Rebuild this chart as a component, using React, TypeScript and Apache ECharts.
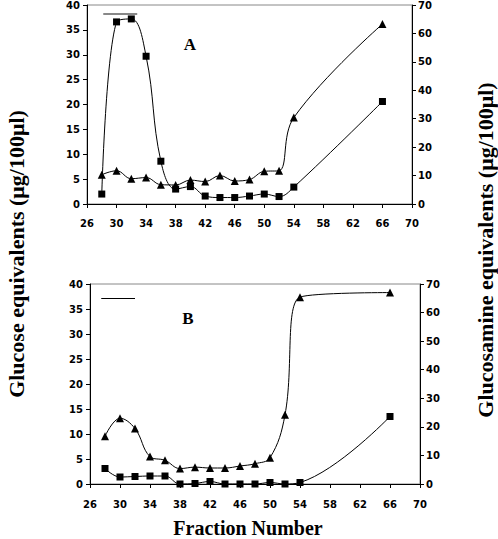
import React, { useEffect, useRef } from "react";
import * as echarts from "echarts";

// Fraction numbers (x)
const fractions = [28, 30, 32, 34, 36, 38, 40, 42, 44, 46, 48, 50, 52, 54, 66];
const xTicks = [26, 30, 34, 38, 42, 46, 50, 54, 58, 62, 66, 70];

// Panel A
const glucoseA = [2.0, 36.6, 37.2, 29.7, 8.6, 3.0, 3.5, 1.6, 1.3, 1.3, 1.6, 2.0, 1.5, 3.4, 20.6];
const glucosamineA = [10.3, 11.7, 8.9, 9.3, 6.8, 6.7, 8.4, 7.9, 10.0, 8.1, 8.6, 11.5, 11.7, 30.4, 63.3];
const barA = [[28.2, 38.3], [32.8, 38.3]];

// Panel B
const glucoseB = [3.1, 1.4, 1.5, 1.6, 1.6, 0, 0.1, 0.5, 0, 0, 0, 0.3, 0, 0.3, 13.5];
const glucosamineB = [16.7, 23.0, 19.4, 9.6, 8.3, 5.4, 5.9, 5.6, 5.6, 6.3, 7.1, 9.2, 24.2, 65.4, 67.0];
const barB = [[27.5, 37.1], [32.0, 37.1]];

const tickFont = { fontFamily: "DejaVu Sans", fontWeight: "bold" as const, fontSize: 10, color: "#000" };
const titleFont = "bold 22px 'Liberation Serif'";

function pairs(xs: number[], ys: number[]) {
  return xs.map((x, i) => [x, ys[i]]);
}

function xAxis(gridIndex: number, margin: number) {
  return {
    type: "value",
    gridIndex,
    min: 26,
    max: 70,
    interval: 2,
    axisLine: { show: true, onZero: false, lineStyle: { color: "#000", width: 1 } },
    axisTick: { show: true, inside: false, length: 4, customValues: xTicks, lineStyle: { color: "#000" } },
    axisLabel: { ...tickFont, margin, customValues: xTicks },
    splitLine: { show: false },
  };
}

function yAxis(gridIndex: number, position: "left" | "right", max: number, interval: number, margin: number) {
  return {
    type: "value",
    gridIndex,
    position,
    min: 0,
    max,
    interval,
    axisLine: { show: true, onZero: false, lineStyle: { color: "#000", width: 1 } },
    axisTick: { show: true, inside: false, length: 4, lineStyle: { color: "#000" } },
    axisLabel: { ...tickFont, margin },
    splitLine: { show: false },
  };
}

function lineSeries(
  name: string,
  xs: number[],
  ys: number[],
  xi: number,
  yi: number,
  symbol: string,
  size: number,
  bar?: number[][],
  barColor?: string,
  barWidth?: number
) {
  const s: any = {
    name,
    type: "line",
    xAxisIndex: xi,
    yAxisIndex: yi,
    data: pairs(xs, ys),
    smooth: 0.4,
    symbol,
    symbolSize: size,
    showSymbol: true,
    itemStyle: { color: "#000" },
    lineStyle: { color: "#000", width: 1 },
  };
  if (bar) {
    s.markLine = {
      silent: true,
      symbol: "none",
      label: { show: false },
      lineStyle: { color: barColor, width: barWidth, type: "solid" },
      data: [[{ coord: bar[0] }, { coord: bar[1] }]],
    };
  }
  return s;
}

export default function App() {
  const ref = useRef<HTMLDivElement>(null);
  useEffect(() => {
    if (!ref.current) return;
    const chart = echarts.init(ref.current, null, { renderer: "svg" });
    chart.setOption({
      animation: false,
      backgroundColor: "#fff",
      grid: [
        { left: 87, top: 5, width: 325, height: 199, show: true, borderColor: "#888", borderWidth: 1, backgroundColor: "transparent" },
        { left: 90, top: 284, width: 330, height: 200, show: true, borderColor: "#888", borderWidth: 1, backgroundColor: "transparent" },
      ],
      xAxis: [xAxis(0, 14), xAxis(1, 15)],
      yAxis: [
        yAxis(0, "left", 40, 5, 7),
        yAxis(0, "right", 70, 10, 6),
        yAxis(1, "left", 40, 5, 7),
        yAxis(1, "right", 70, 10, 6),
      ],
      series: [
        lineSeries("Glucose A", fractions, glucoseA, 0, 0, "rect", 7, barA, "#888", 2),
        lineSeries("Glucosamine A", fractions, glucosamineA, 0, 1, "triangle", 8),
        lineSeries("Glucose B", fractions, glucoseB, 1, 2, "rect", 7, barB, "#000", 1),
        lineSeries("Glucosamine B", fractions, glucosamineB, 1, 3, "triangle", 8),
      ],
      graphic: [
        {
          type: "text",
          x: 16,
          y: 254,
          rotation: Math.PI / 2,
          style: { text: "Glucose equivalents (μg/100μl)", font: titleFont, fill: "#000", textAlign: "center", textVerticalAlign: "middle" },
        },
        {
          type: "text",
          x: 485,
          y: 250,
          rotation: Math.PI / 2,
          style: { text: "Glucosamine equivalents (μg/100μl)", font: titleFont, fill: "#000", textAlign: "center", textVerticalAlign: "middle" },
        },
        {
          type: "text",
          x: 248,
          y: 528,
          style: { text: "Fraction Number", font: "bold 20px 'Liberation Serif'", fill: "#000", textAlign: "center", textVerticalAlign: "middle" },
        },
        {
          type: "text",
          x: 190,
          y: 44,
          style: { text: "A", font: "bold 17px 'Liberation Serif'", fill: "#000", textAlign: "center", textVerticalAlign: "middle" },
        },
        {
          type: "text",
          x: 188,
          y: 318,
          style: { text: "B", font: "bold 17px 'Liberation Serif'", fill: "#000", textAlign: "center", textVerticalAlign: "middle" },
        },
      ],
    });
    return () => chart.dispose();
  }, []);
  return <div ref={ref} style={{ width: 498, height: 539, position: "absolute", left: 0, top: 0 }} />;
}
